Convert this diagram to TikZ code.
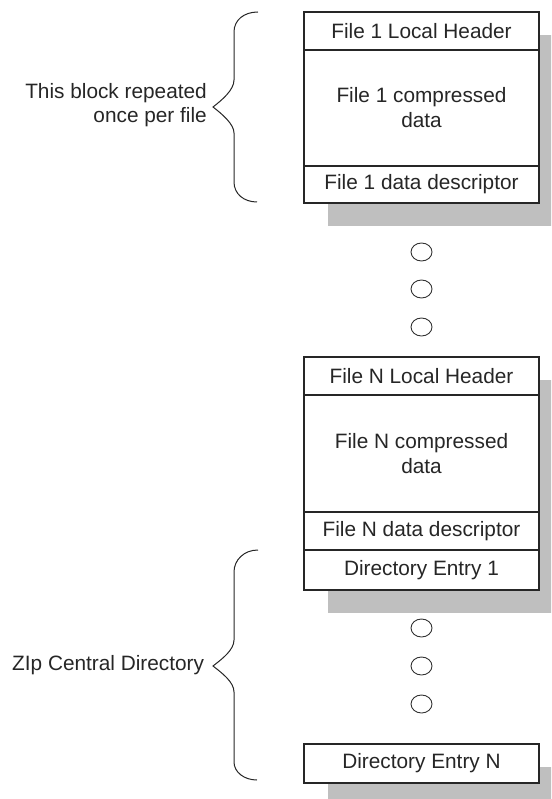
\documentclass[tikz,border=0pt]{standalone}
\usepackage{fontspec}
\setmainfont{Liberation Sans}
\usetikzlibrary{shapes.geometric}
\begin{document}
\begin{tikzpicture}[x=1pt,y=-1pt,
  sect/.style={draw=black!85, line width=1.3pt, minimum width=235pt, inner sep=0pt, align=center,
    font=\fontsize{20.8}{25}\selectfont, text=black!85, fill=white},
  shadowbox/.style={fill=black!25, draw=none},
  dotmark/.style={ellipse, draw=black!80, line width=0.9pt, minimum width=21pt, minimum height=18pt, inner sep=0pt},
  bracestyle/.style={draw=black!85, line width=1pt},
  lbl/.style={font=\fontsize{20.8}{24}\selectfont, text=black!85, inner sep=0pt, align=right}]
\useasboundingbox (0,0) rectangle (551,799);
\clip (0,0) rectangle (551,799);
% shadows
\fill[shadowbox] (328,35) rectangle (570,226);
\fill[shadowbox] (328,380) rectangle (570,613);
\fill[shadowbox] (328,767) rectangle (570,806);
% block 1
\node[sect, minimum height=38pt] (h1) at (421.5,31) {File 1 Local Header};
\node[sect, minimum height=116pt] (c1) at (421.5,108) {File 1 compressed\\data};
\node[sect, minimum height=37pt] (d1) at (421.5,184.5) {File 1 data descriptor};
% dots
\node[dotmark] (e1) at (421.5,252) {};
\node[dotmark] (e2) at (421.5,289) {};
\node[dotmark] (e3) at (421.5,327) {};
% block N
\node[sect, minimum height=38pt] (hN) at (421.5,376) {File N Local Header};
\node[sect, minimum height=117pt] (cN) at (421.5,453.5) {File N compressed\\data};
\node[sect, minimum height=38pt] (dN) at (421.5,531) {File N data descriptor};
\node[sect, minimum height=40pt] (de1) at (421.5,570) {Directory Entry 1};
% dots
\node[dotmark] (e4) at (421.5,628) {};
\node[dotmark] (e5) at (421.5,666) {};
\node[dotmark] (e6) at (421.5,704) {};
\node[sect, minimum height=39pt] (deN) at (421.5,763.5) {Directory Entry N};
% labels
\node[lbl, anchor=east] (lab1) at (207,105) {This block repeated\\once per file};
\node[lbl, anchor=west] (lab2) at (12,665) {ZIp Central Directory};
% braces
\draw[bracestyle] (258,12) .. controls (244,12) and (234,20) .. (234,32)
  -- (234,80) .. controls (234,90) and (222,100) .. (213,107)
  .. controls (222,114) and (234,124) .. (234,133)
  -- (234,182) .. controls (234,194) and (244,202) .. (257,202);
\draw[bracestyle] (258,550) .. controls (244,550) and (234,560) .. (234,572)
  -- (234,640) .. controls (234,650) and (222,659) .. (213,666)
  .. controls (222,673) and (234,682) .. (234,692)
  -- (234,762) .. controls (234,772) and (244,780) .. (257,780);
\end{tikzpicture}
\end{document}
